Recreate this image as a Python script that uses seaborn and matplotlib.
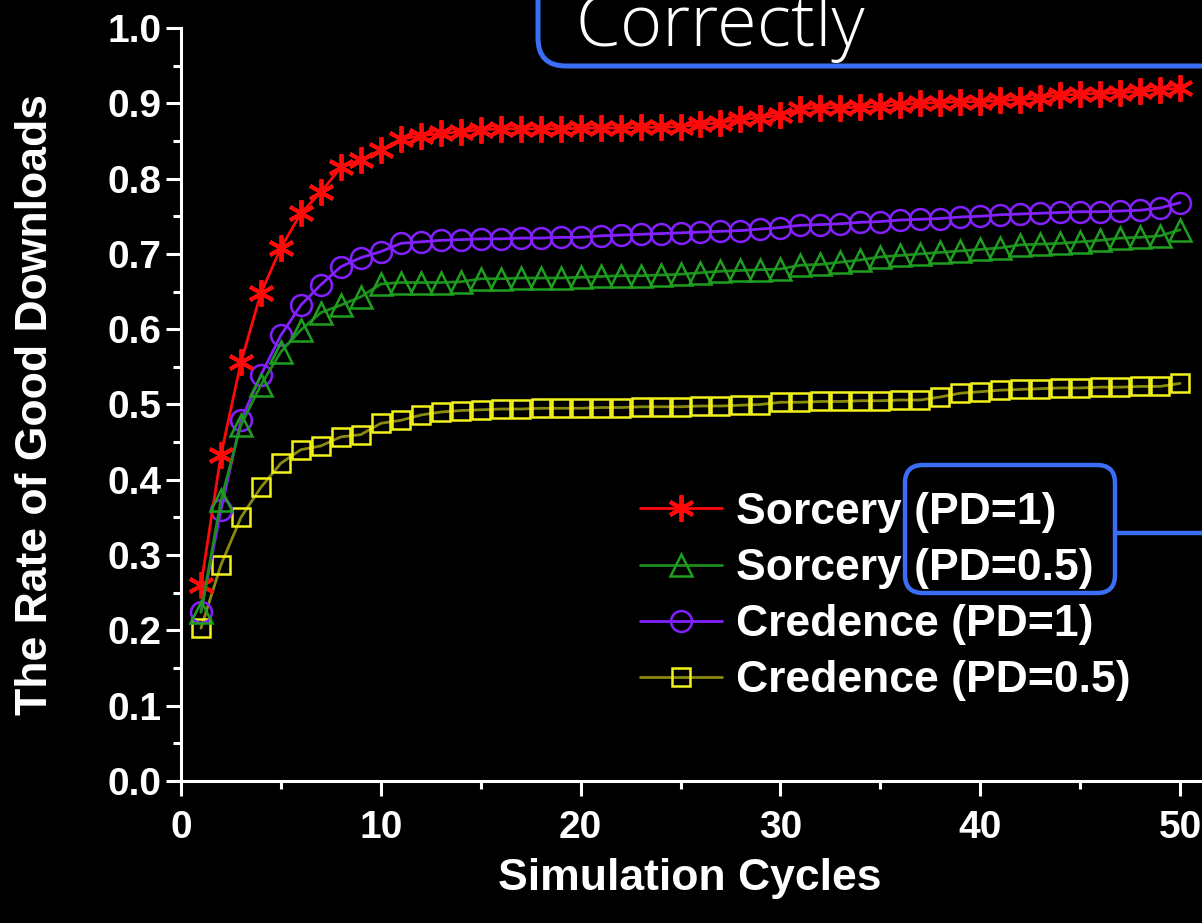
import matplotlib
matplotlib.use('Agg')
import matplotlib.pyplot as plt
import seaborn as sns
from matplotlib.patches import FancyBboxPatch
from matplotlib.lines import Line2D
from matplotlib.ticker import MultipleLocator, FormatStrFormatter
from matplotlib.transforms import IdentityTransform

cycles = list(range(1, 51))

sorcery_pd1 = [0.260, 0.433, 0.556, 0.648, 0.708, 0.754, 0.782, 0.815, 0.825, 0.838,
               0.852, 0.857, 0.860, 0.862, 0.865, 0.866, 0.866, 0.866, 0.866, 0.867,
               0.867, 0.867, 0.868, 0.868, 0.869, 0.872, 0.874, 0.879, 0.881, 0.884,
               0.893, 0.894, 0.894, 0.895, 0.896, 0.898, 0.900, 0.901, 0.902, 0.902,
               0.904, 0.905, 0.907, 0.911, 0.912, 0.913, 0.914, 0.916, 0.918, 0.920]

sorcery_pd05 = [0.224, 0.373, 0.473, 0.526, 0.570, 0.599, 0.622, 0.632, 0.643, 0.660,
                0.662, 0.662, 0.662, 0.663, 0.667, 0.667, 0.668, 0.668, 0.668, 0.669,
                0.670, 0.671, 0.671, 0.672, 0.673, 0.675, 0.677, 0.678, 0.679, 0.680,
                0.685, 0.686, 0.689, 0.692, 0.696, 0.698, 0.700, 0.702, 0.704, 0.706,
                0.708, 0.712, 0.713, 0.714, 0.716, 0.718, 0.721, 0.722, 0.724, 0.732]

credence_pd1 = [0.225, 0.360, 0.479, 0.539, 0.592, 0.632, 0.659, 0.683, 0.695, 0.703,
                0.714, 0.716, 0.718, 0.719, 0.720, 0.720, 0.721, 0.721, 0.722, 0.722,
                0.724, 0.725, 0.726, 0.727, 0.728, 0.729, 0.730, 0.731, 0.733, 0.735,
                0.738, 0.739, 0.740, 0.742, 0.743, 0.745, 0.746, 0.747, 0.749, 0.750,
                0.752, 0.753, 0.754, 0.755, 0.756, 0.756, 0.757, 0.758, 0.761, 0.768]

credence_pd05 = [0.203, 0.287, 0.350, 0.390, 0.422, 0.440, 0.445, 0.457, 0.460, 0.475,
                 0.479, 0.486, 0.490, 0.492, 0.493, 0.494, 0.494, 0.495, 0.495, 0.495,
                 0.496, 0.496, 0.497, 0.497, 0.497, 0.498, 0.498, 0.499, 0.500, 0.503,
                 0.503, 0.504, 0.504, 0.505, 0.505, 0.506, 0.506, 0.510, 0.515, 0.517,
                 0.519, 0.520, 0.521, 0.522, 0.522, 0.523, 0.523, 0.524, 0.524, 0.528]

labels = ['Sorcery (PD=1)', 'Sorcery (PD=0.5)', 'Credence (PD=1)', 'Credence (PD=0.5)']

sns.set_theme(style='ticks', rc={'axes.facecolor': 'black', 'figure.facecolor': 'black',
                                 'savefig.facecolor': 'black'})
plt.rcParams['font.family'] = ['Liberation Sans', 'DejaVu Sans']

W, H = 1202, 923
fig = plt.figure(figsize=(W / 100, H / 100), dpi=100)
ax = fig.add_axes([181 / W, 1 - 781 / H, 1 - 181 / W, (781 - 28) / H])

# styles: line colour, marker, marker edge colour, marker size
styles = {
    labels[0]: dict(color='#ff0a0a', marker=(6, 2, 0), mec='#ff0a0a', ms=19, mew=2.8),
    labels[1]: dict(color='#1c8c1c', marker='^', mec='#1f9f1f', ms=16, mew=1.8),
    labels[2]: dict(color='#8420ff', marker='o', mec='#8420ff', ms=15, mew=1.8),
    labels[3]: dict(color='#8a8a10', marker='s', mec='#f2f21a', ms=13, mew=1.8),
}
series = {labels[0]: sorcery_pd1, labels[1]: sorcery_pd05,
          labels[2]: credence_pd1, labels[3]: credence_pd05}

for name in [labels[3], labels[2], labels[0], labels[1]]:
    st = styles[name]
    sns.lineplot(x=cycles, y=series[name], ax=ax, color=st['color'], lw=2,
                 marker=st['marker'], markersize=st['ms'], markeredgecolor=st['mec'],
                 markerfacecolor='none', markeredgewidth=st['mew'])

ax.set_xlim(0, 51.1)
ax.set_ylim(0, 1.0)
ax.xaxis.set_major_locator(MultipleLocator(10))
ax.xaxis.set_minor_locator(MultipleLocator(5))
ax.yaxis.set_major_locator(MultipleLocator(0.1))
ax.yaxis.set_minor_locator(MultipleLocator(0.05))
ax.yaxis.set_major_formatter(FormatStrFormatter('%.1f'))

for s in ['top', 'right']:
    ax.spines[s].set_visible(False)
for s in ['left', 'bottom']:
    ax.spines[s].set_color('white')
    ax.spines[s].set_linewidth(2.2)

ax.tick_params(which='major', direction='out', length=11, width=2.2, color='white',
               labelcolor='white')
ax.tick_params(which='minor', direction='out', length=6, width=2.2, color='white')
ax.tick_params(axis='x', which='major', labelsize=28, pad=10)
ax.tick_params(axis='y', which='major', labelsize=28, pad=3)
for t in ax.get_xticklabels() + ax.get_yticklabels():
    t.set_fontweight('bold')

ax.set_xlabel('Simulation Cycles', fontsize=32, fontweight='bold', color='white')
ax.set_ylabel('The Rate of Good Downloads', fontsize=32, fontweight='bold', color='white')
ax.xaxis.set_label_coords((690 - 181) / (W - 181), (781 - 858) / 753)
ax.yaxis.set_label_coords((56 - 181) / (W - 181), 0.5)

handles = []
for name in labels:
    st = styles[name]
    handles.append(Line2D([], [], color=st['color'], lw=2, marker=st['marker'],
                          markersize=st['ms'], markeredgecolor=st['mec'],
                          markerfacecolor='none', markeredgewidth=st['mew']))
leg = ax.legend(handles, labels, loc='upper left', bbox_to_anchor=(640 / W, 1 - 492 / H),
                bbox_transform=fig.transFigure, frameon=False, borderpad=0,
                borderaxespad=0, handlelength=1.85, handletextpad=0.3, labelspacing=0.34,
                prop={'size': 32, 'weight': 'bold'})
for t in leg.get_texts():
    t.set_color('white')

# callout boxes drawn in pixel coordinates
blue = '#3b6ef6'
box1 = FancyBboxPatch((538, H - 66), 800, 200, boxstyle='round,pad=0,rounding_size=28',
                      transform=IdentityTransform(), fill=False, ec=blue, lw=3.6)
fig.add_artist(box1)
fig.text(575 / W, 1 - 46 / H, 'Correctly', fontsize=52, color='white',
         family=['Open Sans', 'DejaVu Sans'], fontweight='light', va='baseline')

box2 = FancyBboxPatch((905, H - 593), 210, 128, boxstyle='round,pad=0,rounding_size=18',
                      transform=IdentityTransform(), fill=False, ec=blue, lw=3.2)
fig.add_artist(box2)
fig.add_artist(Line2D([1115, 1210], [H - 533, H - 533], transform=IdentityTransform(),
                      color=blue, lw=3.2))

fig.savefig('out.png', dpi=100)
